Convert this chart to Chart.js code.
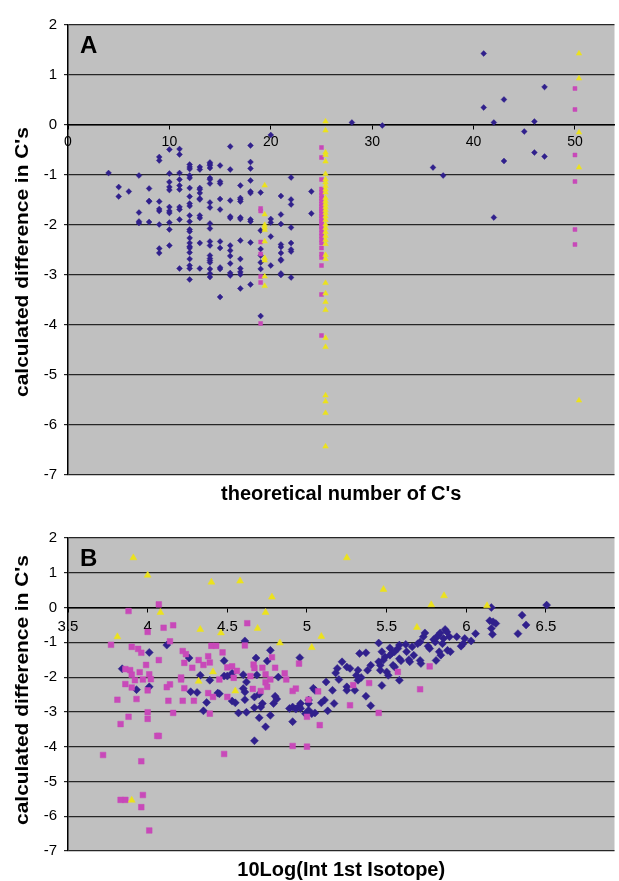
<!DOCTYPE html>
<html>
<head>
<meta charset="utf-8">
<script src="https://cdn.jsdelivr.net/npm/chart.js@4/dist/chart.umd.min.js"></script>
<style>
  body { margin: 0; background: #fff; }
  #wrap { position: relative; width: 619px; height: 881px; overflow: hidden; }
  #chartA { position: absolute; left: 0; top: 0; }
  #chartB { position: absolute; left: 0; top: 505px; }
</style>
</head>
<body>
<div id="wrap">
  <canvas id="chartA" width="619" height="510"></canvas>
  <canvas id="chartB" width="619" height="376"></canvas>
</div>
<script>
// Panel A : colonnes (x entier) -> valeurs y
const aBlueColumns = [
  [4, [-0.96]],
  [5, [-1.24, -1.43]],
  [6, [-1.33]],
  [7, [-1.01, -1.75, -1.93, -1.96]],
  [8, [-1.27, -1.52, -1.53, -1.94]],
  [9, [-0.64, -0.71, -1.53, -1.68, -1.72, -1.99, -2.47, -2.56]],
  [10, [-0.49, -0.97, -1.14, -1.24, -1.3, -1.64, -1.72, -1.76, -1.95, -2.09, -2.41]],
  [11, [-0.48, -0.59, -0.96, -1.09, -1.21, -1.29, -1.64, -1.69, -1.89, -2.87]],
  [12, [-0.79, -0.84, -0.88, -1.01, -1.06, -1.26, -1.43, -1.57, -1.62, -1.81, -1.93, -2.09, -2.13, -2.26, -2.36, -2.43, -2.46, -2.55, -2.68, -2.81, -2.87, -3.09]],
  [13, [-0.84, -0.89, -1.26, -1.29, -1.36, -1.47, -1.49, -1.81, -1.86, -2.36, -2.87]],
  [14, [-0.75, -0.78, -0.81, -0.86, -1.06, -1.09, -1.17, -1.55, -1.65, -1.97, -2.07, -2.33, -2.41, -2.61, -2.67, -2.71, -2.75, -2.88, -2.97, -3.04]],
  [15, [-0.81, -1.13, -1.17, -1.48, -1.69, -2.33, -2.46, -2.85, -2.88, -3.44]],
  [16, [-0.43, -0.89, -1.51, -1.83, -1.86, -2.41, -2.51, -2.62, -2.77, -2.96, -3.01]],
  [17, [-1.21, -1.46, -1.49, -1.53, -1.85, -1.88, -2.31, -2.68, -2.87, -2.94, -2.99, -3.27]],
  [18, [-0.41, -0.74, -0.87, -1.11, -1.33, -1.36, -1.89, -1.93, -2.35, -3.19]],
  [19, [-1.35, -2.11, -2.48, -2.61, -2.75, -2.88, -3.82]],
  [20, [-0.2, -1.88, -1.95, -2.23, -2.81]],
  [21, [-1.42, -1.79, -1.98, -2.39, -2.44, -2.56, -2.69, -2.71, -2.97, -3.0]],
  [22, [-1.05, -1.49, -1.59, -2.05, -2.36, -2.49, -2.53, -3.05]],
  [24, [-1.33, -1.77]],
  [28, [0.05]],
  [31, [-0.01]],
  [36, [-0.85]],
  [37, [-1.01]],
  [41, [1.43, 0.35]],
  [42, [0.05, -1.85]],
  [43, [0.51, -0.72]],
  [45, [-0.13]],
  [46, [0.07, -0.55]],
  [47, [0.76, -0.63]]
];
const aPinkColumns = [
  [19, [-1.67, -1.72, -2.34, -2.58, -3.03, -3.15, -3.97]],
  [25, [-0.45, -0.65, -1.09, -1.28, -1.35, -1.41, -1.47, -1.52, -1.58, -1.63, -1.68, -1.72, -1.77, -1.82, -1.87, -1.92, -1.97, -2.03, -2.09, -2.16, -2.22, -2.29, -2.36, -2.46, -2.58, -2.65, -2.81, -3.39, -4.21]],
  [50, [0.73, 0.31, -0.6, -1.13, -2.09, -2.39]]
];
const aYellowColumns = [
  [19.4, [-1.21, -1.79, -2.0, -2.05, -2.1, -2.33, -2.66, -2.71, -3.03, -3.22]],
  [25.4, [0.07, -0.11, -0.55, -0.6, -0.73, -0.98, -1.09, -1.15, -1.22, -1.29, -1.35, -1.46, -1.52, -1.58, -1.64, -1.7, -1.76, -1.83, -1.9, -1.99, -2.06, -2.14, -2.22, -2.3, -2.38, -2.6, -2.68, -3.16, -3.37, -3.54, -3.7, -4.26, -4.44, -5.41, -5.53, -5.76, -6.43]],
  [50.4, [1.43, 0.93, -0.15, -0.85, -5.51]]
];
const aXTicks = [0, 10, 20, 30, 40, 50];

// Panel B : paires [x, y]
const bBluePoints = [
  [3.84, -1.76], [3.93, -2.36], [4.01, -1.29], [4.01, -2.28], [4.12, -1.08], [4.26, -1.45], [4.27, -2.42], [4.31, -2.44],
  [4.33, -1.95], [4.35, -2.97], [4.37, -2.73], [4.39, -2.09], [4.44, -2.46], [4.45, -2.48], [4.48, -1.53], [4.48, -1.97],
  [4.5, -1.97], [4.53, -1.89], [4.53, -2.69], [4.55, -2.74], [4.57, -3.03], [4.6, -1.93], [4.6, -2.33], [4.61, -0.96],
  [4.61, -2.43], [4.61, -2.65], [4.62, -2.14], [4.62, -3.01], [4.67, -2.57], [4.67, -2.88], [4.67, -3.83], [4.68, -1.45],
  [4.685, -1.94], [4.7, -2.49], [4.7, -3.17], [4.71, -2.86], [4.72, -2.76], [4.74, -3.43], [4.75, -1.54], [4.77, -1.23],
  [4.77, -3.1], [4.79, -2.76], [4.8, -2.55], [4.81, -2.63], [4.82, -2.0], [4.89, -2.9], [4.91, -2.86], [4.91, -3.28],
  [4.93, -2.92], [4.95, -2.84], [4.955, -1.44], [4.96, -2.76], [4.96, -2.9], [4.99, -3.05], [5.01, -2.95], [5.01, -2.76],
  [5.01, -2.66], [5.03, -3.05], [5.04, -2.32], [5.05, -2.38], [5.05, -3.03], [5.09, -2.74], [5.11, -2.66], [5.12, -2.14],
  [5.13, -2.97], [5.16, -2.38], [5.17, -2.76], [5.18, -1.88], [5.19, -1.75], [5.2, -2.07], [5.22, -1.56], [5.25, -1.71],
  [5.27, -1.75], [5.25, -2.28], [5.25, -2.38], [5.3, -2.38], [5.31, -1.95], [5.32, -1.8], [5.32, -2.09], [5.34, -2.01],
  [5.33, -1.32], [5.37, -1.3], [5.37, -2.55], [5.38, -1.8], [5.4, -1.66], [5.4, -2.82], [5.45, -1.02], [5.45, -1.56],
  [5.46, -1.66], [5.46, -1.8], [5.47, -1.27], [5.47, -2.24], [5.48, -1.51], [5.49, -1.42], [5.5, -1.85], [5.51, -1.95],
  [5.52, -1.16], [5.52, -1.37], [5.535, -1.3], [5.55, -1.27], [5.54, -1.66], [5.55, -1.71], [5.57, -1.18], [5.58, -1.08],
  [5.58, -2.09], [5.58, -1.47], [5.59, -1.53], [5.62, -1.06], [5.625, -1.27], [5.64, -1.5], [5.645, -1.56], [5.66, -1.13],
  [5.67, -1.37], [5.695, -1.04], [5.71, -0.99], [5.71, -1.52], [5.715, -1.61], [5.73, -0.84], [5.74, -0.73], [5.76, -1.11],
  [5.77, -1.18], [5.795, -0.92], [5.805, -0.99], [5.81, -1.52], [5.815, -0.84], [5.825, -0.8], [5.836, -0.73], [5.83, -1.27],
  [5.84, -1.37], [5.85, -1.04], [5.857, -0.89], [5.867, -0.63], [5.878, -0.7], [5.882, -1.23], [5.9, -1.27], [5.894, -0.84],
  [5.94, -0.84], [5.967, -1.11], [5.98, -1.04], [5.99, -0.89], [6.03, -0.96], [6.058, -0.75], [6.157, 0.0], [6.147, -0.38],
  [6.168, -0.41], [6.185, -0.46], [6.157, -0.6], [6.164, -0.77], [6.324, -0.75], [6.35, -0.22], [6.375, -0.5], [6.504, 0.07]
];
const bPinkPoints = [
  [3.72, -4.24], [3.77, -1.07], [3.81, -2.65], [3.83, -3.35], [3.83, -5.53], [3.86, -5.53], [3.86, -1.77], [3.86, -2.2],
  [3.88, -0.1], [3.88, -3.14], [3.89, -1.8], [3.9, -1.13], [3.9, -1.93], [3.9, -2.3], [3.92, -2.09], [3.93, -2.63],
  [3.94, -1.19], [3.95, -1.86], [3.96, -1.3], [3.96, -4.42], [3.96, -5.74], [3.97, -2.07], [3.97, -5.39], [3.99, -1.65],
  [4.0, -0.7], [4.0, -2.38], [4.0, -3.01], [4.0, -3.2], [4.01, -1.92], [4.01, -6.41], [4.02, -2.06], [4.06, -3.69],
  [4.07, -3.69], [4.07, 0.09], [4.07, -1.51], [4.1, -0.58], [4.12, -2.29], [4.13, -2.68], [4.14, -0.97], [4.14, -2.21],
  [4.16, -0.51], [4.16, -3.03], [4.21, -2.01], [4.21, -2.07], [4.22, -1.25], [4.22, -2.68], [4.23, -1.59], [4.23, -2.32],
  [4.24, -1.34], [4.28, -1.73], [4.29, -2.68], [4.32, -1.51], [4.35, -1.65], [4.38, -1.4], [4.38, -2.46], [4.39, -1.58],
  [4.39, -3.05], [4.4, -1.1], [4.41, -2.57], [4.43, -1.1], [4.45, -2.07], [4.47, -1.29], [4.48, -4.21], [4.5, -1.72],
  [4.5, -2.57], [4.53, -1.69], [4.54, -2.02], [4.56, -1.82], [4.61, -1.09], [4.625, -0.45], [4.645, -1.97], [4.66, -2.34],
  [4.665, -1.64], [4.67, -1.74], [4.71, -2.4], [4.72, -1.73], [4.74, -1.92], [4.74, -2.15], [4.75, -2.28], [4.77, -2.07],
  [4.78, -1.43], [4.8, -1.73], [4.86, -1.89], [4.87, -2.07], [4.91, -2.4], [4.91, -3.98], [4.93, -2.33], [4.95, -1.61],
  [5.0, -3.14], [5.0, -4.0], [5.01, -2.65], [5.07, -2.41], [5.08, -3.38], [5.27, -2.81], [5.29, -2.23], [5.39, -2.17],
  [5.45, -3.03], [5.57, -1.85], [5.71, -2.35], [5.77, -1.69]
];
const bYellowPoints = [
  [3.81, -0.84], [3.9, -5.54], [3.91, 1.43], [4.0, 0.93], [4.08, -0.14], [4.32, -2.12], [4.33, -0.63], [4.4, 0.73],
  [4.41, -1.85], [4.46, -0.73], [4.55, -2.4], [4.58, 0.76], [4.69, -0.6], [4.74, -0.14], [4.78, 0.3], [4.83, -1.02],
  [5.03, -1.15], [5.09, -0.83], [5.25, 1.43], [5.48, 0.52], [5.69, -0.57], [5.78, 0.08], [5.86, 0.34], [6.13, 0.05]
];
const bXTicks = [3.5, 4, 4.5, 5, 5.5, 6, 6.5];
const yTicks = [-7, -6, -5, -4, -3, -2, -1, 0, 1, 2];

const BLUE = '#30208c';
const PINK = '#c849b9';
const YELLOW = '#ece21c';
const FONT = '"Liberation Sans", Arial, sans-serif';

function fromColumns(cols) {
  const pts = [];
  cols.forEach(c => c[1].forEach(y => pts.push({ x: c[0], y: y })));
  return pts;
}
function fromPairs(pairs) {
  return pairs.map(p => ({ x: p[0], y: p[1] }));
}

// Fond gris, lettre du panneau et titres d'axes
const panelDecor = {
  id: 'panelDecor',
  beforeDraw(chart, args, o) {
    const a = chart.chartArea, ctx = chart.ctx;
    ctx.save();
    ctx.fillStyle = '#c0c0c0';
    ctx.fillRect(a.left, a.top, a.right - a.left, a.bottom - a.top);
    ctx.restore();
  },
  afterDraw(chart, args, o) {
    const a = chart.chartArea, ctx = chart.ctx;
    ctx.save();
    ctx.fillStyle = '#000';
    ctx.font = 'bold 24px ' + FONT;
    ctx.textAlign = 'left';
    ctx.textBaseline = 'alphabetic';
    ctx.fillText(o.letter, a.left + 12, a.top + 28);

    ctx.font = 'bold 20px ' + FONT;
    ctx.textAlign = 'center';
    ctx.fillText(o.xTitle, (a.left + a.right) / 2, o.xTitleY);

    ctx.translate(o.yTitleX, o.yTitleCenter);
    ctx.rotate(-Math.PI / 2);
    ctx.scale(1.1, 1);
    ctx.font = 'bold 19px ' + FONT;
    ctx.textBaseline = 'middle';
    ctx.fillText(o.yTitle, 0, 0);
    ctx.restore();
  }
};

function makeChart(canvasId, cfg) {
  return new Chart(document.getElementById(canvasId), {
    type: 'scatter',
    data: {
      datasets: [
        { data: cfg.yellow, pointStyle: 'triangle', pointRadius: cfg.sizes[2], backgroundColor: YELLOW, borderColor: YELLOW, borderWidth: 0.5 },
        { data: cfg.pink, pointStyle: 'rect', pointRadius: cfg.sizes[1], backgroundColor: PINK, borderColor: PINK, borderWidth: 0.5 },
        { data: cfg.blue, pointStyle: 'rectRot', pointRadius: cfg.sizes[0], backgroundColor: BLUE, borderColor: BLUE, borderWidth: 0.5 }
      ]
    },
    options: {
      responsive: false,
      animation: false,
      devicePixelRatio: 1,
      layout: { padding: { left: 0, right: 0, top: cfg.padTop, bottom: cfg.padBottom } },
      plugins: {
        legend: { display: false },
        tooltip: { enabled: false },
        panelDecor: cfg.decor
      },
      scales: {
        x: {
          type: 'linear',
          position: { y: 0 },
          min: cfg.xMin,
          max: cfg.xMax,
          afterBuildTicks: s => { s.ticks = cfg.xTicks.map(v => ({ value: v })); },
          afterFit: s => { s.height = 0; },
          grid: { drawOnChartArea: false, drawTicks: true, tickLength: 4, color: '#000', lineWidth: 1 },
          border: { display: true, color: '#000', width: 1.5 },
          ticks: { color: '#000', font: { family: FONT, size: cfg.xTickSize }, padding: cfg.xTickPad, maxRotation: 0, autoSkip: false, callback: v => String(v) }
        },
        y: {
          type: 'linear',
          min: -7,
          max: 2,
          afterBuildTicks: s => { s.ticks = yTicks.map(v => ({ value: v })); },
          afterFit: s => { s.width = 68; },
          grid: { color: '#262626', lineWidth: 1.2, tickLength: 4 },
          border: { display: true, color: '#000', width: 1.5 },
          ticks: { color: '#000', font: { family: FONT, size: 15 }, padding: 7 }
        }
      }
    },
    plugins: [panelDecor]
  });
}

makeChart('chartA', {
  blue: fromColumns(aBlueColumns),
  pink: fromColumns(aPinkColumns),
  yellow: fromColumns(aYellowColumns),
  sizes: [2.9, 2.8, 3.2],
  xMin: 0, xMax: 53.9, xTicks: aXTicks, xTickSize: 14, xTickPad: 5,
  padTop: 25, padBottom: 35,
  decor: { letter: 'A', xTitle: "theoretical number of C's", xTitleY: 500, yTitle: "calculated difference in C's", yTitleX: 23, yTitleCenter: 262 }
});

makeChart('chartB', {
  blue: fromPairs(bBluePoints),
  pink: fromPairs(bPinkPoints),
  yellow: fromPairs(bYellowPoints),
  sizes: [4, 4, 4],
  xMin: 3.5, xMax: 6.93, xTicks: bXTicks, xTickSize: 15, xTickPad: 6,
  padTop: 33, padBottom: 30,
  decor: { letter: 'B', xTitle: '10Log(Int 1st Isotope)', xTitleY: 371, yTitle: "calculated difference in C's", yTitleX: 23, yTitleCenter: 185 }
});
</script>
</body>
</html>
